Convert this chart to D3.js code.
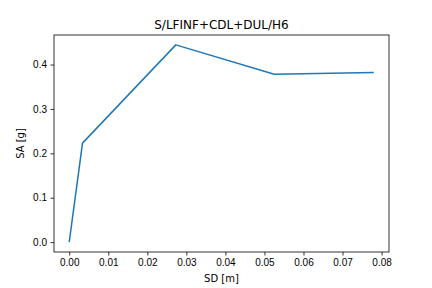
<!DOCTYPE html>
<html>
<head>
<meta charset="utf-8">
<script src="https://cdn.jsdelivr.net/npm/d3@7"></script>
<style>
  body { margin: 0; background: #fff; }
  svg { display: block; font-family: "DejaVu Sans", sans-serif; }
  .axis text { font-size: 10px; fill: #000; }
  .axis path, .axis line { stroke: #000; stroke-width: 0.8; }
</style>
</head>
<body>
<svg width="432" height="288"></svg>
<script>
// capacity curve points
var sd = [0.0, 0.0034, 0.0273, 0.0525, 0.0780];
var sa = [0.0, 0.223, 0.4443, 0.378, 0.382];
var xTicks = [0, 0.01, 0.02, 0.03, 0.04, 0.05, 0.06, 0.07, 0.08];
var yTicks = [0, 0.1, 0.2, 0.3, 0.4];

// plot box (window.top is read-only, so use other names)
var mLeft = 54, mRight = 389, mTop = 35, mBottom = 252;

var svg = d3.select("svg");

var xmax = d3.max(sd), ymax = d3.max(sa);
var x = d3.scaleLinear()
  .domain([-0.05 * xmax, xmax * 1.05])
  .range([mLeft, mRight]);
var y = d3.scaleLinear()
  .domain([-0.05 * ymax, ymax * 1.05])
  .range([mBottom, mTop]);

var xAxis = d3.axisBottom(x).tickValues(xTicks).tickSize(3.5).tickPadding(3.5)
  .tickFormat(d3.format(".2f"));
var yAxis = d3.axisLeft(y).tickValues(yTicks).tickSize(3.5).tickPadding(3.5)
  .tickFormat(d3.format(".1f"));

svg.append("g").attr("class", "axis")
  .attr("transform", "translate(0," + mBottom + ")")
  .call(xAxis)
  .select(".domain").remove();

svg.append("g").attr("class", "axis")
  .attr("transform", "translate(" + mLeft + ",0)")
  .call(yAxis)
  .select(".domain").remove();

svg.append("rect")
  .attr("x", mLeft).attr("y", mTop)
  .attr("width", mRight - mLeft).attr("height", mBottom - mTop)
  .attr("fill", "none").attr("stroke", "#000").attr("stroke-width", 0.8);

var line = d3.line()
  .x(function (d, i) { return x(sd[i]); })
  .y(function (d) { return y(d); });

svg.append("path")
  .datum(sa)
  .attr("d", line)
  .attr("fill", "none")
  .attr("stroke", "#1f77b4")
  .attr("stroke-width", 1.5)
  .attr("stroke-linejoin", "round");

svg.append("text")
  .attr("x", (mLeft + mRight) / 2).attr("y", 29)
  .attr("text-anchor", "middle")
  .style("font-size", "12px")
  .text("S/LFINF+CDL+DUL/H6");

svg.append("text")
  .attr("x", (mLeft + mRight) / 2).attr("y", 282)
  .attr("text-anchor", "middle")
  .style("font-size", "10px")
  .text("SD [m]");

svg.append("text")
  .attr("transform", "translate(24," + (mTop + mBottom) / 2 + ") rotate(-90)")
  .attr("text-anchor", "middle")
  .style("font-size", "10px")
  .text("SA [g]");
</script>
</body>
</html>
